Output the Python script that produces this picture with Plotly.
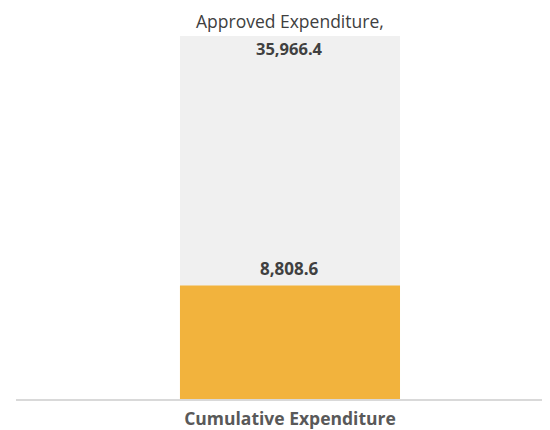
import plotly.graph_objects as go

# ---- data ----
categories = ["Cumulative Expenditure"]
approved = [35966.4]
spent = [8808.6]
approved_label = "Approved Expenditure,"

# ---- styling / scales ----
GRAY = "#f0f0f0"
ORANGE = "#f2b33d"
TEXT = "#404040"
FONT = "Open Sans"
Y2_TOP = 28200  # secondary axis top for the expenditure bar

fig = go.Figure()
fig.add_trace(go.Bar(
    x=categories, y=approved, marker=dict(color=GRAY, line=dict(width=0)),
    width=0.406, yaxis="y", hoverinfo="skip", name="Approved"))
fig.add_trace(go.Bar(
    x=categories, y=spent, marker=dict(color=ORANGE, line=dict(width=0)),
    width=0.406, yaxis="y2", hoverinfo="skip", name="Cumulative"))

fig.add_annotation(x=categories[0], y=approved[0], xref="x", yref="y",
                   text=approved_label, showarrow=False, yanchor="middle", yshift=15,
                   font=dict(family=FONT, size=17.5, color=TEXT))
fig.add_annotation(x=categories[0], y=approved[0], xref="x", yref="y",
                   text=f"<b>{approved[0]:,.1f}</b>", showarrow=False, yanchor="middle", yshift=-12,
                   font=dict(family=FONT, size=16.5, color=TEXT))
fig.add_annotation(x=categories[0], y=spent[0], xref="x", yref="y2",
                   text=f"<b>{spent[0]:,.1f}</b>", showarrow=False, yanchor="middle", yshift=17,
                   font=dict(family=FONT, size=17, color=TEXT))

fig.update_layout(
    width=550, height=430,
    margin=dict(l=8, r=0, t=28, b=39),
    paper_bgcolor="white", plot_bgcolor="white",
    barmode="overlay", showlegend=False,
    font=dict(family=FONT, color=TEXT),
    xaxis=dict(range=[-0.5055, 0.4945], showline=True, linecolor="#d9d9d9", linewidth=2,
               showgrid=False, zeroline=False, ticks="", ticklabelstandoff=3,
               tickfont=dict(family=FONT, size=17.5, color="#595959", weight="bold")),
    yaxis=dict(range=[0, approved[0]], visible=False, showgrid=False, zeroline=False),
    yaxis2=dict(range=[0, Y2_TOP], overlaying="y", visible=False, showgrid=False, zeroline=False),
)

fig.write_html("out.html")
